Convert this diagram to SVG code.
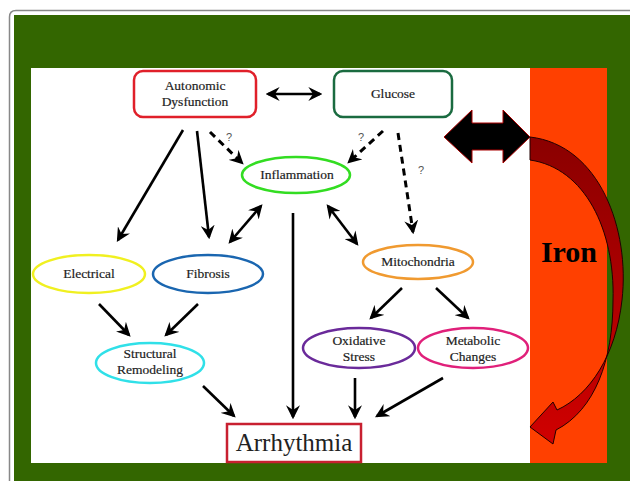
<svg xmlns="http://www.w3.org/2000/svg" width="630" height="481" viewBox="0 0 630 481">
<defs>
<style>
.lbl{font-family:"Liberation Serif","Times New Roman",serif;font-size:13.5px;fill:#222;stroke:#222;stroke-width:0.2;text-anchor:middle}
.ln{stroke:#000;stroke-width:2.6;fill:none}
.dash{stroke:#000;stroke-width:3;fill:none;stroke-dasharray:7 5}
.q{font-family:"Liberation Sans",Arial,sans-serif;font-size:11px;fill:#555}
.node{fill:#fff;stroke-width:2.5}
</style>
<marker id="ah" viewBox="0 0 12 12" refX="10" refY="6" markerWidth="14" markerHeight="14" markerUnits="userSpaceOnUse" orient="auto-start-reverse">
<path d="M0,0 L12,6 L0,12 L4,6 z" fill="#000"/>
</marker>
<linearGradient id="rg" x1="0" y1="0" x2="0" y2="1">
<stop offset="0" stop-color="#8a0000"/>
<stop offset="1" stop-color="#d00000"/>
</linearGradient>
</defs>
<rect x="0" y="0" width="630" height="481" fill="#fff"/>
<path d="M9.5,490 L9.5,17 Q9.5,10.5 16,10.5 L640,10.5" fill="none" stroke="#888" stroke-width="1.5"/>
<rect x="14" y="15" width="616" height="470" fill="#336600"/>
<rect x="31" y="68" width="499" height="395" fill="#fff"/>
<rect x="530" y="68" width="77" height="395" fill="#ff4000"/>
<text x="569" y="262" font-family="Liberation Serif,Times New Roman,serif" font-size="30" font-weight="bold" text-anchor="middle" fill="#000">Iron</text>

<g id="connectors">
<line class="ln" x1="268" y1="94" x2="320" y2="94" marker-start="url(#ah)" marker-end="url(#ah)"/>
<line class="ln" x1="183" y1="130" x2="118" y2="240" marker-end="url(#ah)"/>
<line class="ln" x1="197" y1="131" x2="209" y2="237" marker-end="url(#ah)"/>
<line class="dash" x1="210" y1="132" x2="242" y2="163" marker-end="url(#ah)"/>
<line class="dash" x1="383" y1="131" x2="349" y2="162" marker-end="url(#ah)"/>
<line class="dash" x1="398" y1="133" x2="413" y2="232" marker-end="url(#ah)"/>
<line class="ln" x1="230" y1="242" x2="261" y2="206" marker-start="url(#ah)" marker-end="url(#ah)"/>
<line class="ln" x1="328" y1="206" x2="357" y2="244" marker-start="url(#ah)" marker-end="url(#ah)"/>
<line class="ln" x1="293" y1="213" x2="293" y2="417" marker-end="url(#ah)"/>
<line class="ln" x1="99" y1="304" x2="129" y2="335" marker-end="url(#ah)"/>
<line class="ln" x1="198" y1="304" x2="166" y2="335" marker-end="url(#ah)"/>
<line class="ln" x1="402" y1="288" x2="371" y2="318" marker-end="url(#ah)"/>
<line class="ln" x1="436" y1="288" x2="468" y2="318" marker-end="url(#ah)"/>
<line class="ln" x1="203" y1="386" x2="234" y2="416" marker-end="url(#ah)"/>
<line class="ln" x1="355" y1="378" x2="355" y2="417" marker-end="url(#ah)"/>
<line class="ln" x1="443" y1="378" x2="377" y2="416" marker-end="url(#ah)"/>
<text class="q" x="226" y="141">?</text>
<text class="q" x="358" y="141">?</text>
<text class="q" x="418" y="174">?</text>
<path d="M444,137 L472,110 L472,123 L503,123 L503,110 L530,137 L503,163 L503,150 L472,150 L472,163 Z" fill="#000" stroke="#a00" stroke-width="1"/>
<path d="M530,137 C600,145 630,230 622,300 C616,355 590,395 557,410 L553,402 L530,427 L553,444 L556,430 C595,410 613,360 613,300 C615,230 585,168 530,160 Z" fill="url(#rg)" stroke="#200" stroke-width="1"/>
</g>

<g id="autonomic"><rect class="node" x="134" y="71" width="122" height="46" rx="9" stroke="#e0202a"/>
<text class="lbl" x="195" y="90">Autonomic</text><text class="lbl" x="195" y="106">Dysfunction</text></g>
<g id="glucose"><rect class="node" x="334" y="71" width="118" height="46" rx="9" stroke="#1a6b40"/>
<text class="lbl" x="393" y="98">Glucose</text></g>
<g id="inflammation"><ellipse class="node" cx="296" cy="175" rx="54" ry="18" stroke="#33dd22"/>
<text class="lbl" x="297" y="179">Inflammation</text></g>
<g id="electrical"><ellipse class="node" cx="89" cy="274" rx="56" ry="19" stroke="#f0f020"/>
<text class="lbl" x="89" y="278">Electrical</text></g>
<g id="fibrosis"><ellipse class="node" cx="208" cy="274" rx="55" ry="19" stroke="#1a66b0"/>
<text class="lbl" x="208" y="278">Fibrosis</text></g>
<g id="mitochondria"><ellipse class="node" cx="418" cy="262" rx="55" ry="17" stroke="#f09a30"/>
<text class="lbl" x="418" y="266">Mitochondria</text></g>
<g id="structural"><ellipse class="node" cx="150" cy="363" rx="54" ry="20" stroke="#30e0e8"/>
<text class="lbl" x="150" y="358">Structural</text><text class="lbl" x="150" y="374">Remodeling</text></g>
<g id="oxidative"><ellipse class="node" cx="359" cy="348" rx="56" ry="20" stroke="#6a2a9a"/>
<text class="lbl" x="359" y="345">Oxidative</text><text class="lbl" x="359" y="361">Stress</text></g>
<g id="metabolic"><ellipse class="node" cx="473" cy="348" rx="55" ry="20" stroke="#e0207a"/>
<text class="lbl" x="473" y="345">Metabolic</text><text class="lbl" x="473" y="361">Changes</text></g>
<g id="arrhythmia"><rect class="node" x="227" y="424" width="134" height="38" stroke="#c82030" stroke-width="2"/>
<text x="294" y="451" font-family="Liberation Serif,Times New Roman,serif" font-size="25" text-anchor="middle" fill="#222">Arrhythmia</text></g>
</svg>
